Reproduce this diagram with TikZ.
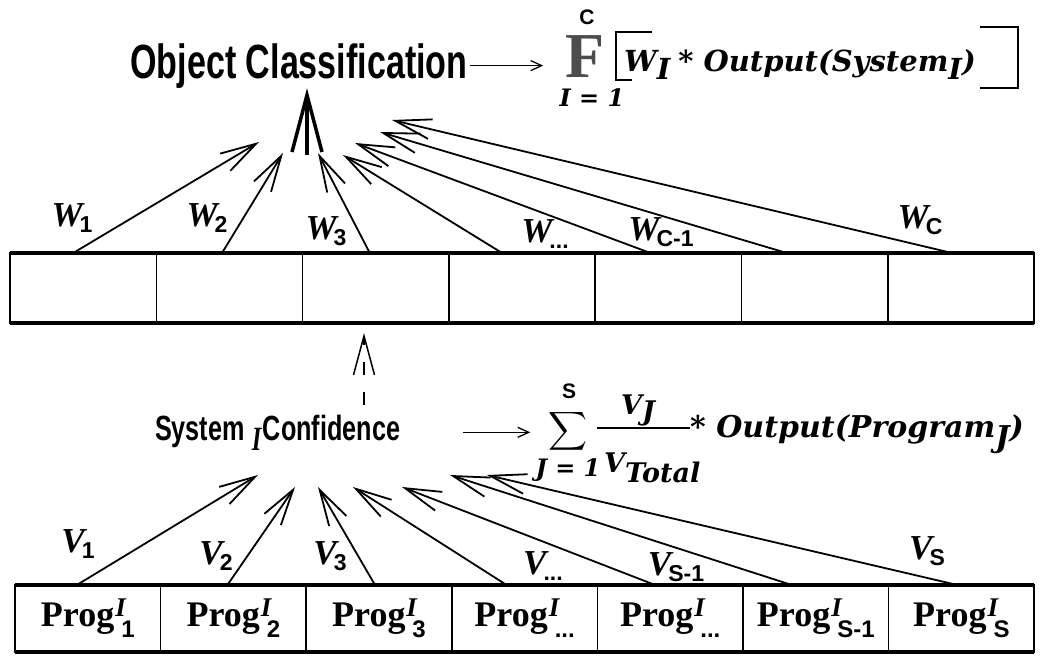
\documentclass[tikz,border=0pt]{standalone}
\usepackage{fontspec}
\setmainfont{Liberation Serif}
\setsansfont{Liberation Sans}
\newfontfamily\formfont{DejaVu Serif}
\usetikzlibrary{arrows.meta,positioning}

\newcommand{\wsub}[2]{{\bfseries\itshape #1}\kern-3pt\raisebox{-6pt}{\fontsize{23}{23}\selectfont\sffamily\bfseries #2}}
\newcommand{\progsub}[1]{Prog\kern1pt\rlap{\raisebox{10pt}{\fontsize{27}{27}\selectfont\itshape I}}\kern6pt\raisebox{-11pt}{\fontsize{24}{24}\selectfont\sffamily\bfseries #1}}

\begin{document}
\begin{tikzpicture}[x=1pt, y=-1pt,
    cellw/.style={draw, line width=1.6pt, minimum width=146.3pt, minimum height=70pt, inner sep=0pt, outer sep=0pt},
    cellp/.style={cellw, minimum width=145.6pt, minimum height=67pt, font=\fontsize{36}{36}\selectfont\bfseries},
    wlab/.style={font=\fontsize{35}{35}\selectfont, inner sep=0pt},
    feed/.style={line width=1.8pt, -{Straight Barb[length=36pt,width=20pt]}},
    small/.style={line width=1.3pt, -{Straight Barb[length=11pt,width=10pt]}},
    form/.style={font=\fontsize{29}{29}\selectfont\formfont\bfseries\itshape, inner sep=0pt}]
  \useasboundingbox (0,0) rectangle (1044,657);

  \node[font=\fontsize{48}{48}\selectfont\sffamily\bfseries, xscale=0.71, inner sep=0pt, anchor=base] (objcls) at (299,78) {Object Classification};
  \node[font=\fontsize{64}{64}\selectfont\bfseries, text=black!70, inner sep=0pt, anchor=base] (Fsym) at (585,77) {F};
  \node[font=\fontsize{21}{21}\selectfont\sffamily\bfseries, inner sep=0pt, anchor=base] (ctop) at (587,24) {C};
  \node[form, font=\fontsize{24}{24}\selectfont\formfont\bfseries\itshape, anchor=base] (ieq) at (592,106) {I = 1};
  \node[form, anchor=base west] (wout) at (624,71) {W\raisebox{-8pt}{I}\hspace{8pt}* Output(System\raisebox{-8pt}{I})};
  \draw[line width=2.5pt] (652,32) -- (616,32) -- (616,80) -- (632,80);
  \draw[line width=2.5pt] (980,27) -- (1018,27) -- (1018,88) -- (980,88);
  \draw[small] (objcls.east) -- (objcls.east -| Fsym.west) [shorten <=2pt, shorten >=22pt];

  \node[cellw] (w1) at (83.2,288) {};
  \node[cellw, right=0pt of w1] (w2) {};
  \node[cellw, right=0pt of w2] (w3) {};
  \node[cellw, right=0pt of w3] (w4) {};
  \node[cellw, right=0pt of w4] (w5) {};
  \node[cellw, right=0pt of w5] (w6) {};
  \node[cellw, right=0pt of w6] (w7) {};
  \draw[line width=4pt] (w1.north west) -- (w7.north east);
  \draw[line width=4pt] (w1.south west) -- (w7.south east);

  \node[wlab] (wl1) at (72,218) {\wsub{W}{1}};
  \node[wlab] (wl2) at (207,218) {\wsub{W}{2}};
  \node[wlab] (wl3) at (326,231) {\wsub{W}{3}};
  \node[wlab] (wl4) at (545,234) {\wsub{W}{...}};
  \node[wlab] (wl5) at (661,232) {\wsub{W}{C-1}};
  \node[wlab] (wl6) at (920,220) {\wsub{W}{C}};

  \coordinate (wt1) at (259,142);
  \coordinate (wt2) at (283,153);
  \coordinate (wt3) at (318,153);
  \coordinate (wt4) at (343,155);
  \coordinate (wt5) at (355,143);
  \coordinate (wt6) at (380,132);
  \coordinate (wt7) at (392,120);
  \draw[feed] ([xshift=-10pt]w1.north) -- (wt1);
  \draw[feed] ([xshift=-7.5pt]w2.north) -- (wt2);
  \draw[feed] ([xshift=-6pt]w3.north) -- (wt3);
  \draw[feed] ([xshift=-20pt]w4.north) -- (wt4);
  \draw[feed] ([xshift=-18pt]w5.north) -- (wt5);
  \draw[feed] ([xshift=-28pt]w6.north) -- (wt6);
  \draw[feed] ([xshift=-9pt]w7.north) -- (wt7);

  \coordinate (agg) at (307,155);
  \draw[line width=3.5pt, -{Straight Barb[length=57pt,width=30pt]}] (agg) -- (agg |- objcls.south);

  \node[font=\fontsize{35}{35}\selectfont\sffamily\bfseries, xscale=0.72, inner sep=0pt, anchor=base west] (conf) at (155,440) {System\hspace{10pt}\raisebox{-10pt}{\fontsize{34}{34}\selectfont\rmfamily\itshape I}\hspace{2pt}Confidence};
  \coordinate (sysup) at (364,405);
  \draw[line width=1.5pt, dash pattern=on 13pt off 17pt, -{Straight Barb[length=39pt,width=21pt]}] (sysup) -- (sysup |- w3.south) [shorten >=10pt];

  \node[font=\fontsize{21}{21}\selectfont\sffamily\bfseries, inner sep=0pt, anchor=base] (stop) at (569,398) {S};
  \node[inner sep=0pt] (sig) at (568,431) {\scalebox{2.7}{$\displaystyle\sum$}};
  \node[form, font=\fontsize{24}{24}\selectfont\formfont\bfseries\itshape, anchor=base] (jeq) at (568,476) {J = 1};
  \node[form, font=\fontsize{27}{27}\selectfont\formfont\bfseries\itshape, anchor=base] (vj) at (638,414) {V\raisebox{-6pt}{J}};
  \node[form, font=\fontsize{27}{27}\selectfont\formfont\bfseries\itshape, anchor=base west] (vtot) at (604,472) {V\raisebox{-10pt}{Total}};
  \draw[line width=1.5pt] (597,428) -- (690,428);
  \node[form, font=\fontsize{30}{30}\selectfont\formfont\bfseries\itshape, anchor=base west] (outp) at (690,437) {* Output(Program\raisebox{-10pt}{J})};
  \draw[small] (conf.east) -- (conf.east -| sig.west) [shorten <=63pt, shorten >=18pt];

  \node[cellp] (p1) at (87.8,618.5) {\progsub{1}};
  \node[cellp, right=0pt of p1] (p2) {\progsub{2}};
  \node[cellp, right=0pt of p2] (p3) {\progsub{3}};
  \node[cellp, right=0pt of p3] (p4) {\progsub{...}};
  \node[cellp, right=0pt of p4] (p5) {\progsub{...}};
  \node[cellp, right=0pt of p5] (p6) {\progsub{S-1}};
  \node[cellp, right=0pt of p6] (p7) {\progsub{S}};
  \draw[line width=4pt] (p1.north west) -- (p7.north east);
  \draw[line width=4pt] (p1.south west) -- (p7.south east);

  \node[wlab] (vl1) at (78,544) {\wsub{V}{1}};
  \node[wlab] (vl2) at (216,556) {\wsub{V}{2}};
  \node[wlab] (vl3) at (330,556) {\wsub{V}{3}};
  \node[wlab] (vl4) at (543,566) {\wsub{V}{...}};
  \node[wlab] (vl5) at (676,567) {\wsub{V}{S-1}};
  \node[wlab] (vl6) at (927,551) {\wsub{V}{S}};

  \coordinate (vt1) at (258,475);
  \coordinate (vt2) at (295,487);
  \coordinate (vt3) at (318,487);
  \coordinate (vt4) at (353,487);
  \coordinate (vt5) at (402,487);
  \coordinate (vt6) at (450,475);
  \coordinate (vt7) at (487,475);
  \draw[feed] ([xshift=-11pt]p1.north) -- (vt1);
  \draw[feed] ([xshift=-6pt]p2.north) -- (vt2);
  \draw[feed] ([xshift=-4pt]p3.north) -- (vt3);
  \draw[feed] ([xshift=-18pt]p4.north) -- (vt4);
  \draw[feed] ([xshift=-15pt]p5.north) -- (vt5);
  \draw[feed] ([xshift=-24pt]p6.north) -- (vt6);
  \draw[feed] ([xshift=-4pt]p7.north) -- (vt7);
\end{tikzpicture}
\end{document}
